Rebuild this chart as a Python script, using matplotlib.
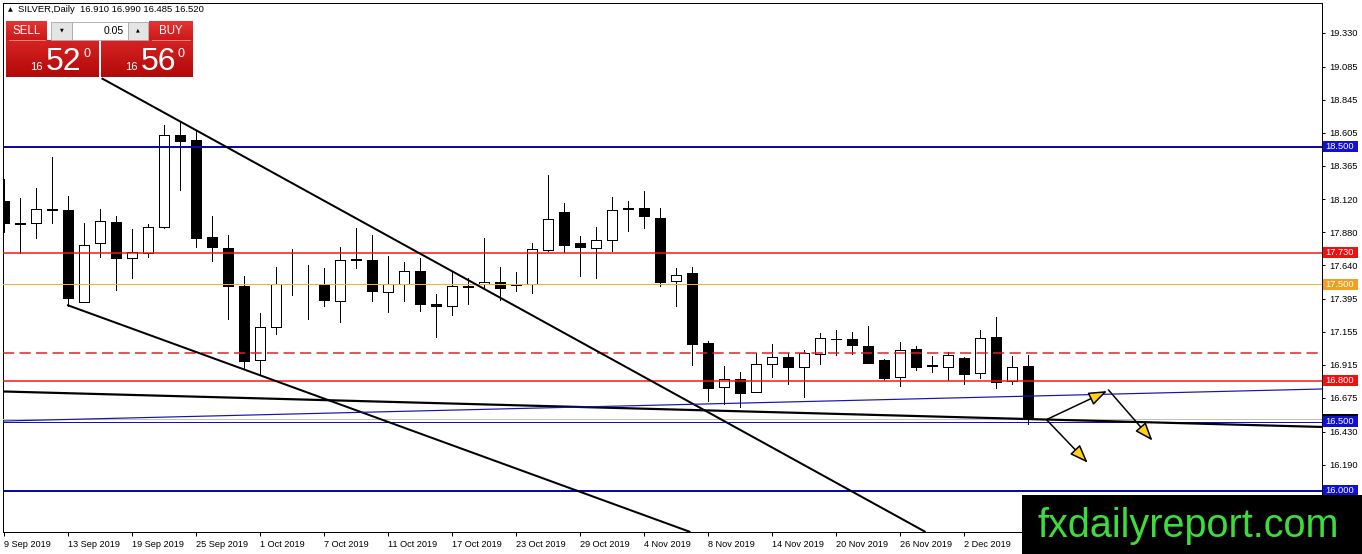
import matplotlib
matplotlib.use('Agg')
import matplotlib.pyplot as plt
from matplotlib.patches import Rectangle
import matplotlib.transforms as mtransforms
import numpy as np

W, H = 1362, 554
FONT = ['Liberation Sans', 'DejaVu Sans']
plt.rcParams['font.family'] = FONT

# ---------------- data ----------------
date_labels = ['9 Sep 2019', '13 Sep 2019', '19 Sep 2019', '25 Sep 2019', '1 Oct 2019',
               '7 Oct 2019', '11 Oct 2019', '17 Oct 2019', '23 Oct 2019', '29 Oct 2019',
               '4 Nov 2019', '8 Nov 2019', '14 Nov 2019', '20 Nov 2019', '26 Nov 2019',
               '2 Dec 2019']
opens = [18.11, 17.94, 17.95, 18.05, 18.04, 17.375, 17.80, 17.955, 17.69, 17.73,
         17.92, 18.59, 18.55, 17.845, 17.765, 17.49, 16.95, 17.19, 17.50, 17.505,
         17.505, 17.38, 17.685, 17.68, 17.447, 17.505, 17.60, 17.36, 17.342, 17.49,
         17.50, 17.52, 17.493, 17.50, 17.752, 18.024, 17.805, 17.767, 17.827, 18.055,
         18.053, 17.987, 17.522, 17.58, 17.073, 16.756, 16.811, 16.716, 16.92, 16.971,
         16.903, 16.995, 17.104, 17.102, 17.053, 16.952, 16.83, 17.029, 16.912, 16.903,
         16.964, 16.855, 17.116, 16.80, 16.91]
highs = [18.27, 18.13, 18.20, 18.425, 18.14, 17.95, 18.05, 18.00, 17.90, 17.94,
         18.66, 18.68, 18.62, 18.00, 17.86, 17.56, 17.29, 17.63, 17.76, 17.645,
         17.62, 17.77, 17.91, 17.86, 17.71, 17.66, 17.69, 17.43, 17.60, 17.544,
         17.835, 17.63, 17.59, 17.805, 18.295, 18.096, 17.854, 17.92, 18.133, 18.108,
         18.18, 18.053, 17.62, 17.63, 17.088, 16.91, 16.867, 17.0, 17.068, 17.0,
         17.024, 17.15, 17.17, 17.153, 17.2, 16.959, 17.08, 17.053, 16.98, 17.01,
         16.976, 17.17, 17.262, 16.98, 16.99]
lows = [17.88, 17.73, 17.84, 17.95, 17.345, 17.375, 17.70, 17.46, 17.545, 17.70,
        17.91, 18.19, 17.77, 17.67, 17.25, 16.89, 16.85, 17.14, 17.42, 17.25,
        17.34, 17.23, 17.62, 17.38, 17.30, 17.38, 17.31, 17.12, 17.275, 17.355,
        17.476, 17.39, 17.454, 17.44, 17.745, 17.738, 17.563, 17.544, 17.745, 17.89,
        17.91, 17.49, 17.345, 16.916, 16.654, 16.63, 16.607, 16.716, 16.83, 16.775,
        16.685, 16.92, 16.988, 16.993, 16.932, 16.806, 16.765, 16.879, 16.86, 16.806,
        16.775, 16.823, 16.75, 16.775, 16.485]
closes = [17.945, 17.95, 18.05, 18.045, 17.40, 17.79, 17.96, 17.69, 17.735, 17.92,
          18.587, 18.54, 17.84, 17.77, 17.49, 16.94, 17.19, 17.50, 17.505, 17.50,
          17.386, 17.68, 17.675, 17.45, 17.505, 17.60, 17.357, 17.34, 17.488, 17.48,
          17.515, 17.476, 17.505, 17.76, 17.973, 17.788, 17.776, 17.82, 18.045, 18.05,
          17.995, 17.519, 17.57, 17.064, 16.748, 16.816, 16.714, 16.92, 16.976, 16.903,
          17.0, 17.109, 17.10, 17.058, 16.932, 16.823, 17.022, 16.903, 16.908, 16.985,
          16.852, 17.109, 16.794, 16.903, 16.52]

price_ticks = [19.330, 19.085, 18.845, 18.605, 18.365, 18.120, 17.880, 17.640,
               17.395, 17.155, 16.915, 16.675, 16.430, 16.190]

# horizontal levels: (price, color, width_px, style, antialiased)
levels = [(18.500, '#0c0ca0', 2.0, '-', False),
          (17.730, '#ff1010', 1.5, '-', True),
          (17.500, '#f0b030', 1.0, '-', False),
          (17.000, '#e02020', 1.5, '--', True),
          (16.800, '#ff1010', 1.5, '-', True),
          (16.500, '#1010c8', 1.0, '-', False),
          (16.000, '#0c0ca0', 2.0, '-', False)]
bid_price = 16.520
level_boxes = [(18.500, '#1010d0'), (17.730, '#ee1111'), (17.500, '#f0a020'),
               (16.800, '#ee1111'), (16.500, '#1010d0'), (16.000, '#1010d0')]

# trend lines: ((x0, p0), (x1, p1), color, width_px)
trendlines = [((6.1, 19.00), (57.6, 15.70), 'black', 2.0),
              ((3.94, 17.351), (42.9, 15.70), 'black', 2.0),
              ((-0.0625, 16.722), (82.375, 16.464), 'black', 2.2),
              ((-0.0625, 16.507), (82.375, 16.740), '#1515b0', 1.2)]
# arrows: (start, end)
arrows = [((65.17, 16.518), (68.94, 16.725)),
          ((69.03, 16.733), (71.78, 16.365)),
          ((65.17, 16.515), (67.73, 16.204))]

PX = 72.0 / 100.0  # points per pixel

fig = plt.figure(figsize=(W / 100, H / 100), dpi=100)
fig.patch.set_facecolor('white')
ax = fig.add_axes([3 / W, 22 / H, 1319 / W, 529 / H])
ax.set_xlim(-0.0625, 82.375)
ax.set_ylim(15.70, 19.547)
ax.set_facecolor('white')
for s in ax.spines.values():
    s.set_color('black')
    s.set_linewidth(1 * PX)

# candles
bw = 0.62
for i, (o, h, l, c) in enumerate(zip(opens, highs, lows, closes)):
    ax.plot([i, i], [l, h], color='black', lw=1 * PX, zorder=2,
            solid_capstyle='butt', antialiased=False)
    bottom = min(o, c)
    height = max(abs(c - o), 0.0005)
    fc = 'white' if c >= o else 'black'
    ax.add_patch(Rectangle((i - bw / 2, bottom), bw, height, facecolor=fc,
                           edgecolor='black', lw=1 * PX, zorder=3, antialiased=False))

# levels
for p, col, wpx, ls, aa in levels:
    line = ax.axhline(p, color=col, lw=wpx * PX, zorder=4, antialiased=aa)
    if ls == '--':
        line.set_dashes((7.5, 3.5))
ax.axhline(bid_price, color='#c0c0c0', lw=1 * PX, zorder=3.5, antialiased=False)

# trendlines
for (x0, p0), (x1, p1), col, wpx in trendlines:
    ax.plot([x0, x1], [p0, p1], color=col, lw=wpx * PX, zorder=5, solid_capstyle='butt')

# arrows
for (x0, p0), (x1, p1) in arrows:
    ax.annotate('', xy=(x1, p1), xytext=(x0, p0),
                arrowprops=dict(arrowstyle='-|>,head_length=0.8,head_width=0.3',
                                mutation_scale=14, lw=1.5 * PX, ec='black',
                                fc='#ffd21a', shrinkA=0, shrinkB=0), zorder=6)

# ticks
ax.set_xticks(range(0, 4 * len(date_labels), 4))
ax.set_xticklabels(date_labels, fontsize=6.6)
for lbl in ax.get_xticklabels():
    lbl.set_horizontalalignment('left')
ax.tick_params(axis='x', direction='out', length=3, width=1 * PX, pad=2.5)
ax.yaxis.tick_right()
ax.set_yticks(price_ticks)
ax.set_yticklabels(['%.3f' % t for t in price_ticks], fontsize=6.7)
ax.tick_params(axis='y', direction='out', length=2.5, width=1 * PX, pad=3)

# price boxes on the right axis
tr = mtransforms.blended_transform_factory(fig.transFigure, ax.transData)
ppx = (19.547 - 15.70) / 529.0  # price per pixel
bh = 11 * ppx
ax.add_patch(Rectangle((1323 / W, bid_price - bh / 2), 35 / W, bh, transform=tr,
                       facecolor='black', edgecolor='none', clip_on=False, zorder=7))
for p, col in level_boxes:
    ax.add_patch(Rectangle((1323 / W, p - bh / 2), 35 / W, bh, transform=tr,
                           facecolor=col, edgecolor='none', clip_on=False, zorder=8))
    ax.text(1325 / W, p, '%.3f' % p, transform=tr, color='white', fontsize=6.7,
            va='center', ha='left', clip_on=False, zorder=9)

# ---------------- overlay (trade panel, header, watermark) ----------------
ov = fig.add_axes([0, 0, 1, 1], zorder=10)
ov.set_xlim(0, W)
ov.set_ylim(H, 0)
ov.axis('off')
ov.patch.set_alpha(0)


def grad_box(x, y, w, h, top, bot):
    g = np.linspace(0, 1, 32).reshape(-1, 1)
    c0 = np.array(matplotlib.colors.to_rgb(top))
    c1 = np.array(matplotlib.colors.to_rgb(bot))
    img = c0[None, None, :] * (1 - g[:, :, None]) + c1[None, None, :] * g[:, :, None]
    ov.imshow(img, extent=[x, x + w, y + h, y], aspect='auto', zorder=1,
              interpolation='bilinear')


ov.text(8, 10, '\u25b2', fontsize=4.5, family=['DejaVu Sans'], va='center', ha='left')
ov.text(18, 10, 'SILVER,Daily  16.910 16.990 16.485 16.520', fontsize=6.8,
        va='center', ha='left')

grad_box(6, 21, 41, 19, '#e43434', '#cc1818')
grad_box(149, 21, 44, 19, '#e43434', '#cc1818')
grad_box(6, 40, 93, 37, '#d62222', '#b20a0a')
grad_box(101, 40, 92, 37, '#d62222', '#b20a0a')
ov.plot([9, 45], [40, 40], color='#f08080', lw=0.7, zorder=2)
ov.plot([152, 190], [40, 40], color='#f08080', lw=0.7, zorder=2)
ov.text(26.5, 31, 'SELL', color='white', fontsize=8.3, ha='center', va='center', zorder=3)
ov.text(171, 31, 'BUY', color='white', fontsize=8.3, ha='center', va='center', zorder=3)
ov.add_patch(Rectangle((51, 22), 21, 18, facecolor='#e4e4e4', edgecolor='#a8a8a8', lw=0.6, zorder=2))
ov.add_patch(Rectangle((72, 22), 56, 18, facecolor='white', edgecolor='#a8a8a8', lw=0.6, zorder=2))
ov.add_patch(Rectangle((128, 22), 20, 18, facecolor='#e4e4e4', edgecolor='#a8a8a8', lw=0.6, zorder=2))
ov.text(61.5, 30, '\u25bc', fontsize=3.5, family=['DejaVu Sans'], ha='center', va='center', zorder=3)
ov.text(138, 30, '\u25b2', fontsize=3.5, family=['DejaVu Sans'], ha='center', va='center', zorder=3)
ov.text(124, 30.5, '0.05', fontsize=7.5, ha='right', va='center', zorder=3)
for xs, big in ((30, '52'), (125, '56')):
    ov.text(xs, 70, '16', color='white', fontsize=8, ha='left', va='baseline', zorder=3)
    ov.text(xs + 16, 70.5, big, color='white', fontsize=23, ha='left', va='baseline', zorder=3)
    ov.text(xs + 53, 57, '0', color='white', fontsize=9, ha='left', va='baseline', zorder=3)

ov.add_patch(Rectangle((1022, 495), W - 1022, H - 495, facecolor='black', edgecolor='none', zorder=2))
ov.text(1037, 537, 'fxdailyreport.com', color='#3cdc3c', fontsize=28.5,
        ha='left', va='baseline', zorder=3)

fig.savefig('out.png', dpi=100)
